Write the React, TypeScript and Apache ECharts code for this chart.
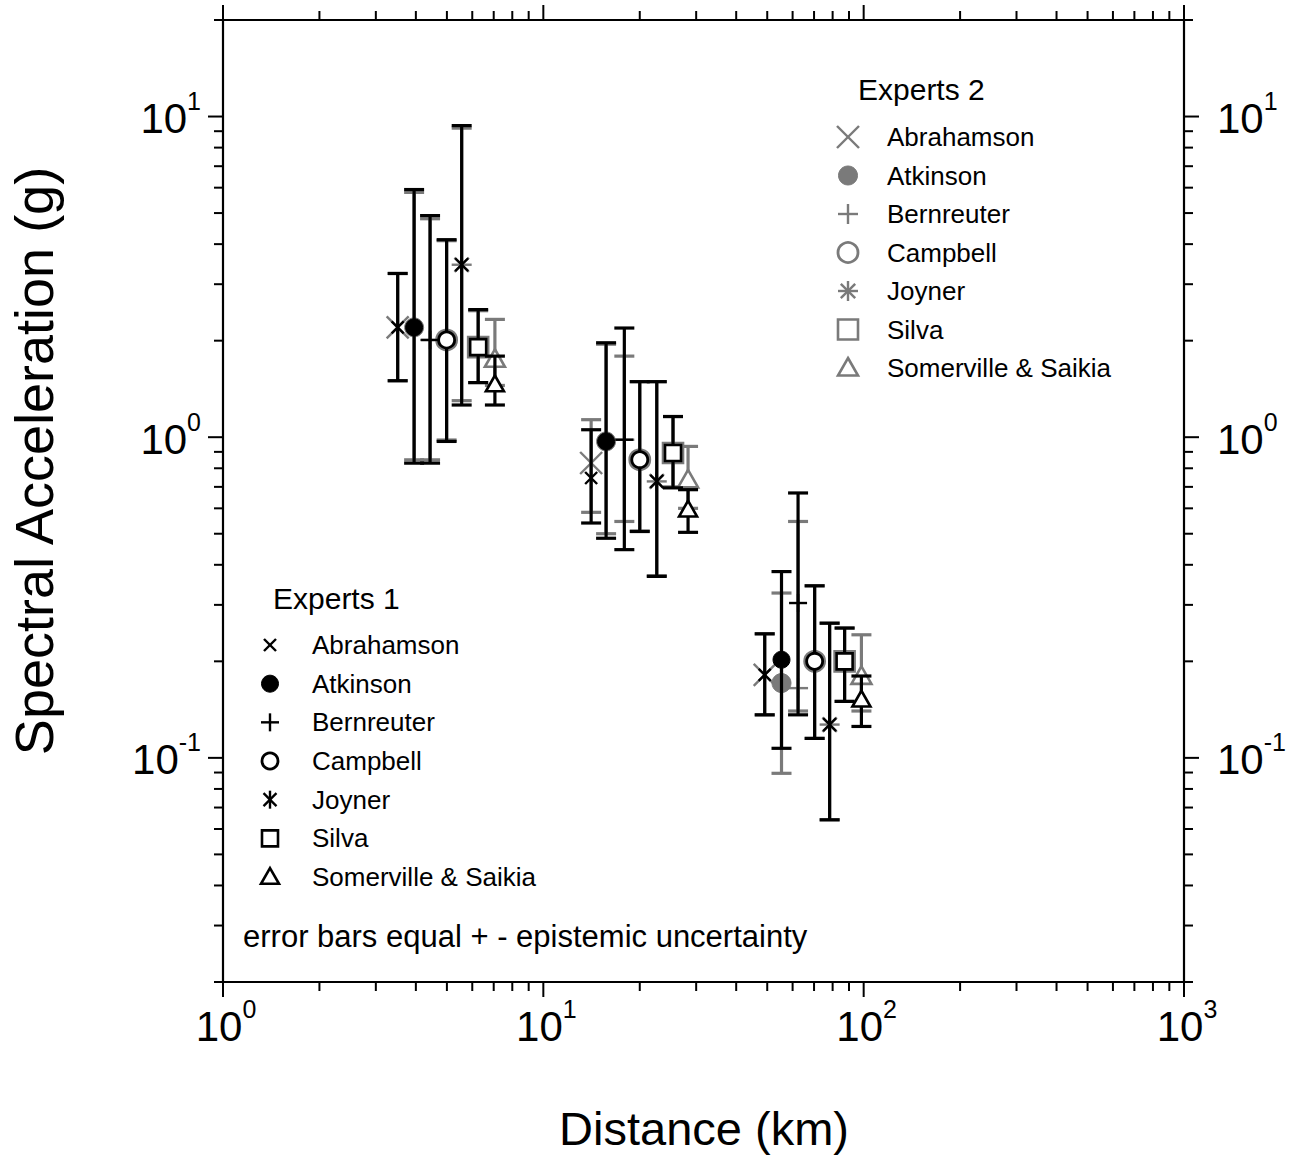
import React, { useEffect, useRef } from 'react';
import * as echarts from 'echarts';

const FONT = '"Liberation Sans", Arial, Helvetica, sans-serif';
const BLACK = '#000000';
const GREY = '#7a7a7a';

const expertNames = ['Abrahamson', 'Atkinson', 'Bernreuter', 'Campbell', 'Joyner', 'Silva', 'Somerville & Saikia'];

// plotting distances (km) of each expert in the three distance groups
const distNear = [3.51, 3.95, 4.43, 4.99, 5.56, 6.26, 7.06];
const distMid = [14.1, 15.7, 17.9, 20.0, 22.6, 25.4, 28.3];
const distFar = [49.1, 55.4, 62.4, 70.3, 78.3, 87.2, 98.4];

// Experts 1 (black): median, lower and upper spectral acceleration (g)
const e1MedNear = [2.2, 2.2, 2.01, 2.01, 3.45, 1.91, 1.46];
const e1LoNear = [1.5, 0.83, 0.83, 0.97, 1.26, 1.48, 1.26];
const e1HiNear = [3.24, 5.92, 4.91, 4.13, 9.37, 2.5, 1.79];
const e1MedMid = [0.746, 0.97, 0.982, 0.851, 0.728, 0.893, 0.594];
const e1LoMid = [0.54, 0.484, 0.446, 0.508, 0.368, 0.695, 0.505];
const e1HiMid = [1.055, 1.97, 2.19, 1.49, 1.49, 1.16, 0.686];
const e1MedFar = [0.1815, 0.2023, 0.304, 0.2, 0.127, 0.2, 0.1518];
const e1LoFar = [0.1362, 0.1071, 0.1362, 0.115, 0.0641, 0.15, 0.1253];
const e1HiFar = [0.2437, 0.381, 0.67, 0.344, 0.263, 0.254, 0.18];

// Experts 2 (grey)
const e2MedNear = [2.2, 2.2, 2.01, 2.01, 3.45, 1.91, 1.75];
const e2LoNear = [1.5, 0.85, 0.85, 0.98, 1.3, 1.48, 1.45];
const e2HiNear = [3.24, 5.8, 4.8, 4.1, 9.2, 2.48, 2.33];
const e2MedMid = [0.831, 0.97, 0.982, 0.851, 0.728, 0.893, 0.736];
const e2LoMid = [0.583, 0.5, 0.546, 0.51, 0.37, 0.7, 0.6];
const e2HiMid = [1.134, 1.95, 1.79, 1.49, 1.49, 1.16, 0.936];
const e2MedFar = [0.1815, 0.1711, 0.165, 0.2, 0.127, 0.2, 0.1795];
const e2LoFar = [0.1362, 0.0895, 0.14, 0.115, 0.0641, 0.15, 0.14];
const e2HiFar = [0.2437, 0.3266, 0.546, 0.344, 0.263, 0.254, 0.242];

// axis ticks
const xTicks = [1, 2, 3, 4, 5, 6, 7, 8, 9, 10, 20, 30, 40, 50, 60, 70, 80, 90, 100, 200, 300, 400, 500, 600, 700, 800, 900, 1000];
const xMajor = [1, 10, 100, 1000];
const yTicks = [0.02, 0.03, 0.04, 0.05, 0.06, 0.07, 0.08, 0.09, 0.1, 0.2, 0.3, 0.4, 0.5, 0.6, 0.7, 0.8, 0.9, 1, 2, 3, 4, 5, 6, 7, 8, 9, 10, 20];
const yMajor = [0.1, 1, 10];

function build(dists: number[], meds: number[], los: number[], his: number[]) {
  return dists.map((d, k) => [d, meds[k], los[k], his[k], k]);
}

const set1Data = [
  ...build(distNear, e1MedNear, e1LoNear, e1HiNear),
  ...build(distMid, e1MedMid, e1LoMid, e1HiMid),
  ...build(distFar, e1MedFar, e1LoFar, e1HiFar),
];
const set2Data = [
  ...build(distNear, e2MedNear, e2LoNear, e2HiNear),
  ...build(distMid, e2MedMid, e2LoMid, e2HiMid),
  ...build(distFar, e2MedFar, e2LoFar, e2HiFar),
];

function markerEls(set: number, k: number, cx: number, cy: number): any[] {
  const c = set === 1 ? BLACK : GREY;
  const line = (x1: number, y1: number, x2: number, y2: number, lw = 2.4) => ({
    type: 'line',
    shape: { x1, y1, x2, y2 },
    style: { stroke: c, lineWidth: lw },
  });
  switch (k) {
    case 0: {
      const h = set === 1 ? 6 : 11;
      return [line(cx - h, cy - h, cx + h, cy + h), line(cx - h, cy + h, cx + h, cy - h)];
    }
    case 1: {
      const r = set === 1 ? 8.5 : 9.5;
      return [{ type: 'circle', shape: { cx, cy, r }, style: { fill: c, stroke: c, lineWidth: 1 } }];
    }
    case 2: {
      const h = set === 1 ? 9 : 10;
      return [line(cx - h, cy, cx + h, cy), line(cx, cy - h, cx, cy + h)];
    }
    case 3: {
      const r = set === 1 ? 8 : 10;
      return [{ type: 'circle', shape: { cx, cy, r }, style: { fill: '#ffffff', stroke: c, lineWidth: 2.8 } }];
    }
    case 4: {
      const h = set === 1 ? 9 : 10;
      const d = h * 0.72;
      const arr = [line(cx, cy - h, cx, cy + h), line(cx - d, cy - d, cx + d, cy + d), line(cx - d, cy + d, cx + d, cy - d)];
      if (set === 2) arr.push(line(cx - h, cy, cx + h, cy));
      return arr;
    }
    case 5: {
      const h = set === 1 ? 8 : 10;
      return [{ type: 'rect', shape: { x: cx - h, y: cy - h, width: 2 * h, height: 2 * h }, style: { fill: '#ffffff', stroke: c, lineWidth: 2.6 } }];
    }
    default: {
      const h = set === 1 ? 9 : 10;
      return [{
        type: 'polygon',
        shape: { points: [[cx, cy - h], [cx + h, cy + h * 0.75], [cx - h, cy + h * 0.75]] },
        style: { fill: '#ffffff', stroke: c, lineWidth: 2.6 },
      }];
    }
  }
}

function errorRender(set: number) {
  const c = set === 1 ? BLACK : GREY;
  const lw = 3.2;
  const cap = 10;
  return (params: any, api: any) => {
    const x = api.value(0);
    const pMed = api.coord([x, api.value(1)]);
    const pLo = api.coord([x, api.value(2)]);
    const pHi = api.coord([x, api.value(3)]);
    const k = api.value(4);
    const cx = pMed[0];
    const children: any[] = [
      { type: 'line', shape: { x1: cx, y1: pHi[1], x2: cx, y2: pLo[1] }, style: { stroke: c, lineWidth: lw } },
      { type: 'line', shape: { x1: cx - cap, y1: pHi[1], x2: cx + cap, y2: pHi[1] }, style: { stroke: c, lineWidth: lw } },
      { type: 'line', shape: { x1: cx - cap, y1: pLo[1], x2: cx + cap, y2: pLo[1] }, style: { stroke: c, lineWidth: lw } },
      ...markerEls(set, k, cx, pMed[1]),
    ];
    return { type: 'group', children };
  };
}

const richLabel = {
  b: { fontSize: 42, fontFamily: FONT, fill: BLACK, color: BLACK, lineHeight: 60 },
  s: { fontSize: 25, fontFamily: FONT, fill: BLACK, color: BLACK, verticalAlign: 'top', lineHeight: 32 },
};

const frameData = [
  ...xTicks.map((v) => [v, 1, 0, xMajor.indexOf(v) >= 0 ? 1 : 0]),
  ...yTicks.map((v) => [1, v, 1, yMajor.indexOf(v) >= 0 ? 1 : 0]),
];

function frameRender(params: any, api: any) {
  const cs = params.coordSys;
  const kind = api.value(2);
  const major = api.value(3) === 1;
  const len = major ? 15 : 9;
  const st = { stroke: BLACK, lineWidth: 2 };
  const children: any[] = [];
  if (kind === 0) {
    const v = api.value(0);
    const px = api.coord([v, 1])[0];
    const top = cs.y;
    const bot = cs.y + cs.height;
    children.push({ type: 'line', shape: { x1: px, y1: bot, x2: px, y2: bot + len }, style: st });
    children.push({ type: 'line', shape: { x1: px, y1: top, x2: px, y2: top - len }, style: st });
    if (major) {
      const e = Math.round(Math.log10(v));
      children.push({
        type: 'text',
        x: px + 3,
        y: bot + 14,
        style: { text: `{b|10}{s|${e}}`, rich: richLabel, align: 'center', verticalAlign: 'top' },
      });
    }
  } else {
    const v = api.value(1);
    const py = api.coord([1, v])[1];
    const left = cs.x;
    const right = cs.x + cs.width;
    children.push({ type: 'line', shape: { x1: left, y1: py, x2: left - len, y2: py }, style: st });
    children.push({ type: 'line', shape: { x1: right, y1: py, x2: right + len, y2: py }, style: st });
    if (major) {
      const e = Math.round(Math.log10(v));
      children.push({
        type: 'text',
        x: left - 22,
        y: py + 2,
        style: { text: `{b|10}{s|${e}}`, rich: richLabel, align: 'right', verticalAlign: 'middle' },
      });
      children.push({
        type: 'text',
        x: right + 33,
        y: py + 2,
        style: { text: `{b|10}{s|${e}}`, rich: richLabel, align: 'left', verticalAlign: 'middle' },
      });
    }
  }
  return { type: 'group', children };
}

function legendBlock(set: number, headerX: number, headerY: number, symX: number, textX: number, row0: number, step: number) {
  const els: any[] = [];
  els.push({
    type: 'text',
    x: headerX,
    y: headerY,
    style: { text: set === 1 ? 'Experts 1' : 'Experts 2', fontSize: 30, fontFamily: FONT, fill: BLACK, align: 'left', verticalAlign: 'middle' },
  });
  expertNames.forEach((n, k) => {
    const y = row0 + k * step;
    markerEls(set, k, symX, y).forEach((e) => els.push(e));
    els.push({
      type: 'text',
      x: textX,
      y,
      style: { text: n, fontSize: 26, fontFamily: FONT, fill: BLACK, align: 'left', verticalAlign: 'middle' },
    });
  });
  return els;
}

const option: any = {
  animation: false,
  backgroundColor: '#ffffff',
  grid: { left: 223, top: 20, width: 961, height: 962, show: true, borderColor: BLACK, borderWidth: 2.2, backgroundColor: 'transparent' },
  xAxis: {
    type: 'log', logBase: 10, min: 1, max: 1000,
    axisLine: { show: false }, axisTick: { show: false }, axisLabel: { show: false }, splitLine: { show: false },
  },
  yAxis: {
    type: 'log', logBase: 10, min: 0.02, max: 20,
    axisLine: { show: false }, axisTick: { show: false }, axisLabel: { show: false }, splitLine: { show: false },
  },
  graphic: [
    {
      type: 'text', x: 34, y: 461, rotation: Math.PI / 2,
      style: { text: 'Spectral Acceleration (g)', fontSize: 54, fontFamily: FONT, fill: BLACK, align: 'center', verticalAlign: 'middle' },
    },
    {
      type: 'text', x: 704, y: 1128,
      style: { text: 'Distance (km)', fontSize: 47, fontFamily: FONT, fill: BLACK, align: 'center', verticalAlign: 'middle' },
    },
    {
      type: 'text', x: 243, y: 936,
      style: { text: 'error bars equal + - epistemic uncertainty', fontSize: 31, fontFamily: FONT, fill: BLACK, align: 'left', verticalAlign: 'middle' },
    },
    ...legendBlock(2, 858, 89, 848, 887, 137, 38.5),
    ...legendBlock(1, 273, 598, 270, 312, 645, 38.67),
  ],
  series: [
    {
      type: 'custom', name: 'frame', silent: true, clip: false,
      coordinateSystem: 'cartesian2d', encode: { x: 0, y: 1 },
      data: frameData, renderItem: frameRender,
    },
    {
      type: 'custom', name: 'Experts 2', silent: true, clip: false,
      coordinateSystem: 'cartesian2d', encode: { x: 0, y: 1 },
      data: set2Data, renderItem: errorRender(2),
    },
    {
      type: 'custom', name: 'Experts 1', silent: true, clip: false,
      coordinateSystem: 'cartesian2d', encode: { x: 0, y: 1 },
      data: set1Data, renderItem: errorRender(1),
    },
  ],
};

export default function App() {
  const ref = useRef<HTMLDivElement>(null);
  useEffect(() => {
    const chart = echarts.init(ref.current as HTMLDivElement, undefined, { renderer: 'svg' });
    chart.setOption(option);
    return () => chart.dispose();
  }, []);
  return (
    <div
      ref={ref}
      style={{ position: 'fixed', left: 0, top: 0, width: 1300, height: 1155, background: '#ffffff' }}
    />
  );
}
